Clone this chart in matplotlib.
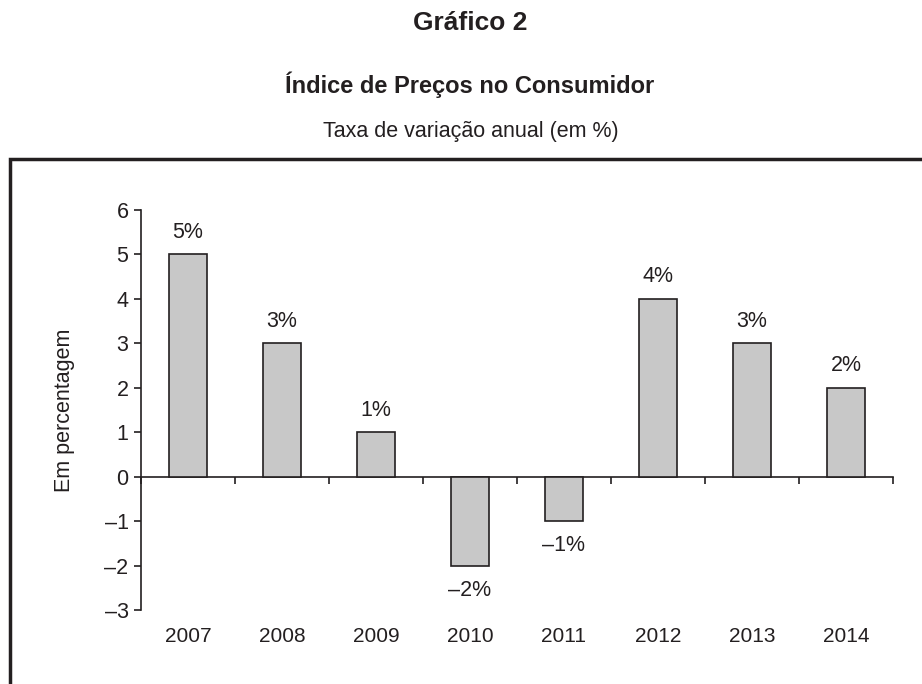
import matplotlib
matplotlib.use("Agg")
import matplotlib.pyplot as plt
from matplotlib.patches import Rectangle

# ── data ──
years = ["2007", "2008", "2009", "2010", "2011", "2012", "2013", "2014"]
ipc = [5, 3, 1, -2, -1, 4, 3, 2]
y_ticks = [-3, -2, -1, 0, 1, 2, 3, 4, 5, 6]

plt.rcParams['font.family'] = ['Liberation Sans', 'DejaVu Sans']
ink = '#231f20'

fig = plt.figure(figsize=(9.22, 6.84), dpi=100)
W, H = 922, 684

# titles
fig.text(470 / W, 1 - 23 / H, "Gráfico 2", ha='center', va='center',
         fontsize=19, fontweight='bold', color=ink)
fig.text(470 / W, 1 - 85 / H, "Índice de Preços no Consumidor", ha='center', va='center',
         fontsize=17, fontweight='bold', color=ink)
fig.text(471 / W, 1 - 132 / H, "Taxa de variação anual (em %)", ha='center', va='center',
         fontsize=15.5, color=ink)

# frame box (open at the bottom/right, cut by the image edge)
fig.add_artist(Rectangle((10 / W, -0.1), 1.0, (1 - 159 / H) + 0.1,
                         transform=fig.transFigure, fill=False,
                         lw=2.5, edgecolor=ink))

ax = fig.add_axes([141 / W, 1 - 610 / H, 752 / W, 400 / H])
x = range(len(years))
ax.bar(x, ipc, width=0.4, color='#c8c8c8', edgecolor=ink, linewidth=1.2, zorder=3)

ax.set_xlim(-0.5, len(years) - 0.5)
ax.set_ylim(-3, 6)

for s in ['top', 'right']:
    ax.spines[s].set_visible(False)
ax.spines['bottom'].set_position(('data', 0))
ax.spines['left'].set_color(ink)
ax.spines['bottom'].set_color(ink)
ax.spines['left'].set_linewidth(1.2)
ax.spines['bottom'].set_linewidth(1.2)

ax.set_yticks(y_ticks)
ax.set_yticklabels([str(t).replace('-', '–') for t in y_ticks])
ax.set_xticks([i - 0.5 for i in range(len(years) + 1)])
ax.set_xticklabels([])
ax.tick_params(axis='y', direction='out', length=5, width=1.2, color=ink,
               labelsize=15.5, labelcolor=ink, pad=4)
ax.tick_params(axis='x', direction='out', length=5, width=1.2, color=ink)

# year labels below the plot
for i, yr in enumerate(years):
    ax.text(i, -3.6, yr, ha='center', va='center', fontsize=15, color=ink)

# value labels
for i, v in enumerate(ipc):
    txt = f"{v}%".replace('-', '–')
    if v >= 0:
        ax.text(i, v + 0.5, txt, ha='center', va='center', fontsize=15.5, color=ink)
    else:
        ax.text(i, v - 0.55, txt, ha='center', va='center', fontsize=15.5, color=ink)

ax.set_ylabel("Em percentagem", fontsize=15.5, color=ink, labelpad=21)

fig.savefig("out.png", dpi=100)
